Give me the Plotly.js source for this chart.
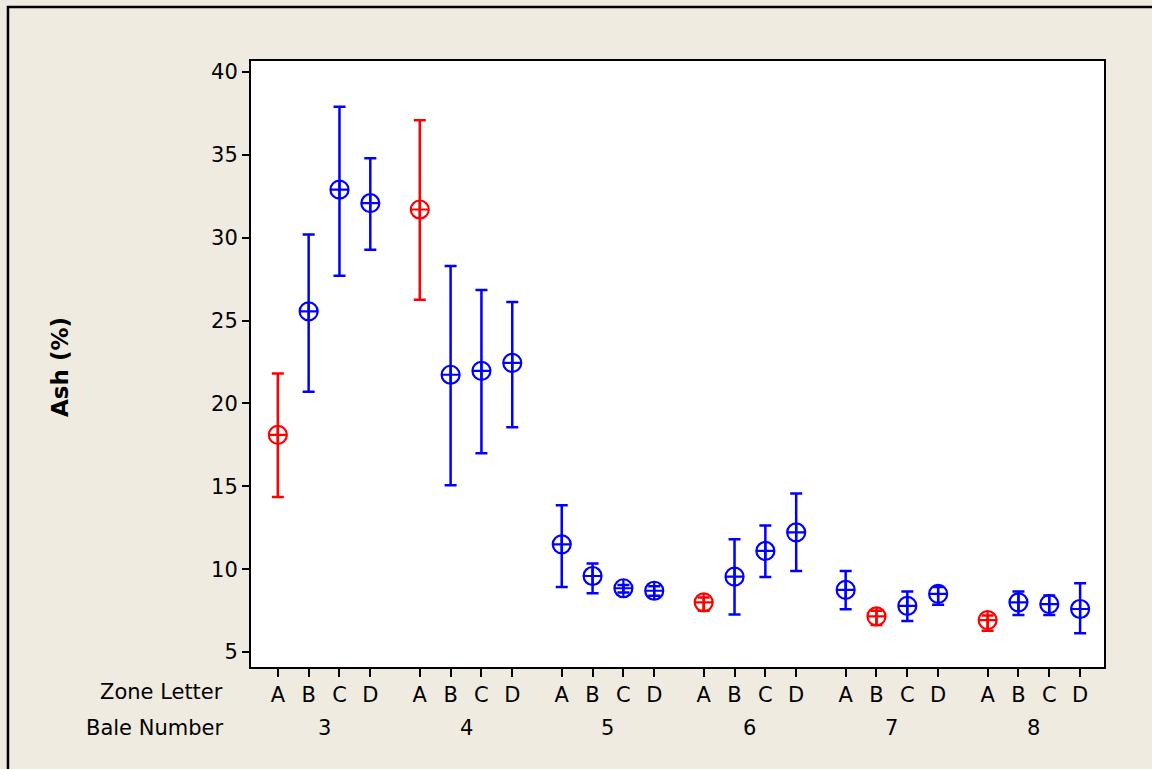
<!DOCTYPE html>
<html>
<head>
<meta charset="utf-8">
<script src="https://cdn.plot.ly/plotly-3.0.1.min.js"></script>
<style>
html,body{margin:0;padding:0;background:#efebe1;}
#chart{width:1152px;height:769px;}
</style>
</head>
<body>
<div id="chart"></div>
<script>
// Data
var baleNumbers = ["3", "4", "5", "6", "7", "8"];
var zoneLetters = ["A", "B", "C", "D"];
// mean ash (%) per bale, zones A-D
var ashMean = [
  [18.1, 25.55, 32.9, 32.08],
  [31.7, 21.73, 21.97, 22.45],
  [11.5, 9.59, 8.85, 8.7],
  [8.0, 9.55, 11.1, 12.22],
  [8.75, 7.15, 7.79, 8.51],
  [6.93, 8.0, 7.89, 7.6]
];
var ashUpper = [
  [21.8, 30.2, 37.9, 34.8],
  [37.09, 28.29, 26.84, 26.12],
  [13.86, 10.35, 9.05, 8.97],
  [8.3, 11.8, 12.64, 14.57],
  [9.89, 7.5, 8.65, 8.93],
  [7.2, 8.65, 8.41, 9.15]
];
var ashLower = [
  [14.35, 20.7, 27.7, 29.27],
  [26.26, 15.07, 16.99, 18.56],
  [8.93, 8.55, 8.6, 8.4],
  [7.5, 7.27, 9.53, 9.89],
  [7.59, 6.64, 6.87, 7.85],
  [6.28, 7.24, 7.24, 6.14]
];
// highlighted (red) points: [baleIndex, zoneIndex]
var highlighted = [[0,0],[1,0],[3,0],[4,1],[5,0]];

var groupStride = 4.605;
function isRed(b, z){
  return highlighted.some(function(p){ return p[0]===b && p[1]===z; });
}
function buildTrace(red){
  var x=[], y=[], ep=[], em=[];
  for (var b=0;b<baleNumbers.length;b++){
    for (var z=0;z<zoneLetters.length;z++){
      if (isRed(b,z)!==red) continue;
      x.push(b*groupStride+z);
      y.push(ashMean[b][z]);
      ep.push(ashUpper[b][z]-ashMean[b][z]);
      em.push(ashMean[b][z]-ashLower[b][z]);
    }
  }
  var col = red ? '#ff0000' : '#0000ff';
  return {
    type:'scatter', mode:'markers', x:x, y:y, showlegend:false,
    marker:{symbol:'circle-cross-open', size:18, color:col, line:{width:2.2, color:col}},
    error_y:{type:'data', symmetric:false, array:ep, arrayminus:em, color:col, thickness:2.5, width:6}
  };
}

var tickvals=[], ticktext=[];
for (var b=0;b<baleNumbers.length;b++){
  for (var z=0;z<zoneLetters.length;z++){
    tickvals.push(b*groupStride+z);
    ticktext.push(zoneLetters[z]);
  }
}

var font = {family:'DejaVu Sans, Verdana, sans-serif', size:21, color:'#000000'};
var annotations = [];
for (var b=0;b<baleNumbers.length;b++){
  annotations.push({xref:'x', yref:'paper', x:b*groupStride+1.5, y:-0.1007, text:baleNumbers[b],
    showarrow:false, xanchor:'center', yanchor:'middle', font:font});
}
annotations.push({xref:'paper', yref:'paper', x:-0.0305, y:-0.0413, text:'Zone Letter', showarrow:false,
  xanchor:'right', yanchor:'middle', font:font});
annotations.push({xref:'paper', yref:'paper', x:-0.0305, y:-0.1007, text:'Bale Number', showarrow:false,
  xanchor:'right', yanchor:'middle', font:font});
annotations.push({xref:'paper', yref:'paper', x:-0.224, y:0.495, text:'<b>Ash (%)</b>', showarrow:false,
  textangle:-90, xanchor:'center', yanchor:'middle', font:{family:font.family, size:23, color:'#000'}});

var layout = {
  width:1152, height:769,
  margin:{l:251, r:48, t:61, b:102, pad:0},
  paper_bgcolor:'#efebe1', plot_bgcolor:'#ffffff',
  font:font,
  xaxis:{
    range:[-0.87, 26.8], tickmode:'array', tickvals:tickvals, ticktext:ticktext,
    showgrid:false, zeroline:false, showline:true, linecolor:'#000', linewidth:2, mirror:true,
    ticks:'outside', ticklen:8, tickwidth:2, tickcolor:'#000', tickfont:font
  },
  yaxis:{
    range:[4.1, 40.66], tickmode:'array', tickvals:[5,10,15,20,25,30,35,40],
    showgrid:false, zeroline:false, showline:true, linecolor:'#000', linewidth:2, mirror:true,
    ticks:'outside', ticklen:7, tickwidth:2, tickcolor:'#000', tickfont:font
  },
  annotations:annotations,
  shapes:[{type:'rect', xref:'paper', yref:'paper', x0:-0.2849, x1:1.08, y0:-0.2, y1:1.089,
    line:{color:'#000', width:2.5}, fillcolor:'rgba(0,0,0,0)', layer:'below'}]
};

Plotly.newPlot('chart', [buildTrace(false), buildTrace(true)], layout, {displayModeBar:false, staticPlot:true});
</script>
</body>
</html>
